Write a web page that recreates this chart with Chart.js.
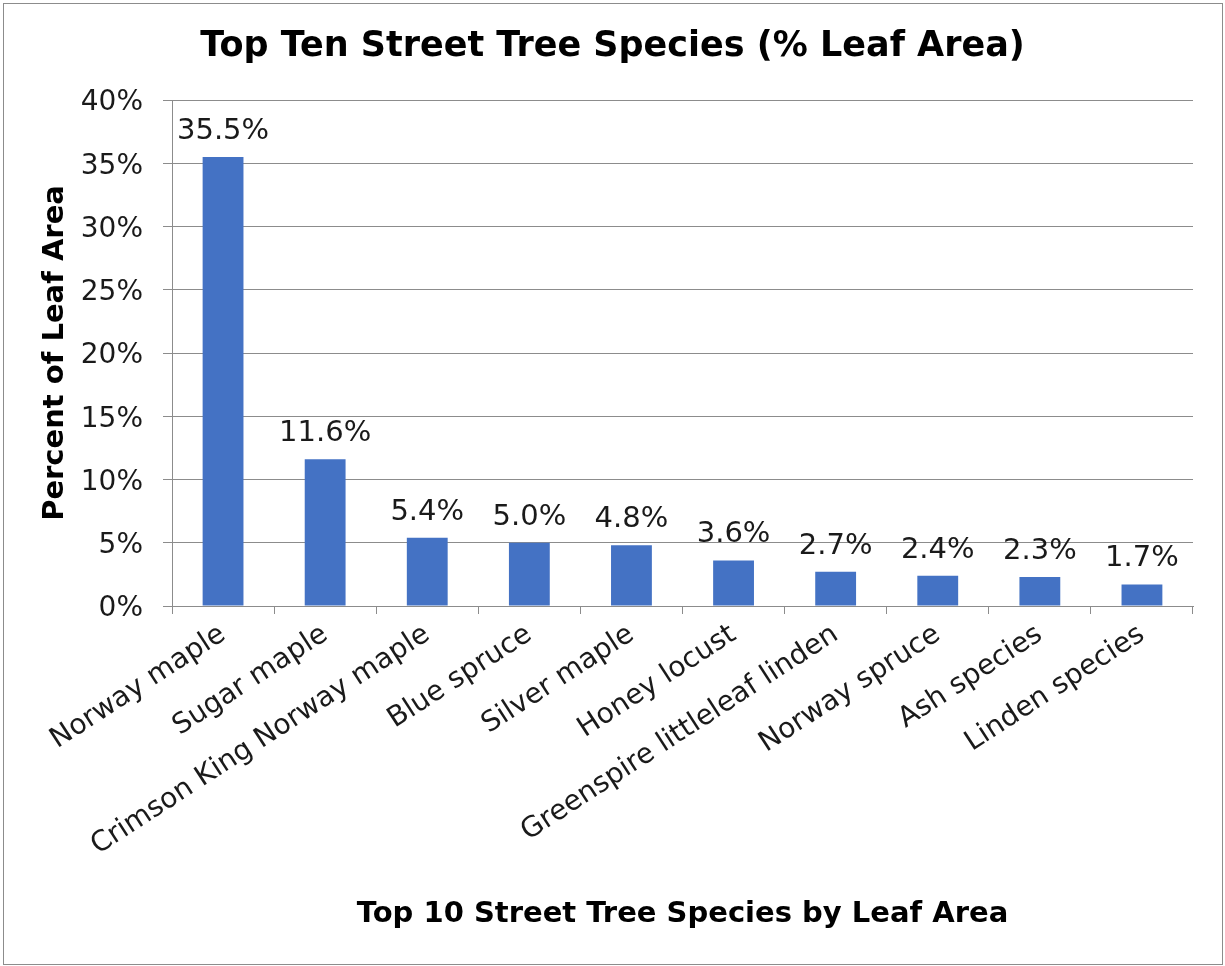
<!DOCTYPE html>
<html>
<head>
<meta charset="utf-8">
<script src="https://cdn.jsdelivr.net/npm/chart.js@4.4.1/dist/chart.umd.min.js"></script>
<style>
  html, body { margin: 0; padding: 0; background: #fff; }
  #wrap { position: relative; width: 1225px; height: 966px; }
</style>
</head>
<body>
<div id="wrap"><canvas id="c" width="1225" height="966"></canvas></div>
<script>
const categories = ["Norway maple", "Sugar maple", "Crimson King Norway maple", "Blue spruce", "Silver maple", "Honey locust", "Greenspire littleleaf linden", "Norway spruce", "Ash species", "Linden species"];
const leafAreaPct = [35.5, 11.6, 5.4, 5.0, 4.8, 3.6, 2.7, 2.4, 2.3, 1.7];
const yTicks = [0, 5, 10, 15, 20, 25, 30, 35, 40];
const chartTitle = "Top Ten Street Tree Species (% Leaf Area)";
const xTitle = "Top 10 Street Tree Species by Leaf Area";
const yTitle = "Percent of Leaf Area";

const FONT = "'DejaVu Sans', Verdana, sans-serif";

const frame = {
  id: 'frame',
  beforeDraw(chart) {
    const ctx = chart.ctx;
    ctx.save();
    ctx.fillStyle = '#fff';
    ctx.fillRect(0, 0, chart.width, chart.height);
    ctx.strokeStyle = '#8c8c8c';
    ctx.lineWidth = 1;
    ctx.strokeRect(3.5, 3.5, 1219, 961);
    ctx.restore();
  }
};

const valueLabels = {
  id: 'valueLabels',
  afterDatasetsDraw(chart) {
    const ctx = chart.ctx;
    const meta = chart.getDatasetMeta(0);
    const data = chart.data.datasets[0].data;
    ctx.save();
    ctx.font = '29px ' + FONT;
    ctx.fillStyle = '#1a1a1a';
    ctx.textAlign = 'center';
    ctx.textBaseline = 'alphabetic';
    meta.data.forEach((bar, i) => {
      ctx.fillText(data[i].toFixed(1) + '%', bar.x, bar.y - 18);
    });
    ctx.restore();
  }
};

new Chart(document.getElementById('c'), {
  type: 'bar',
  data: {
    labels: categories,
    datasets: [{
      data: leafAreaPct,
      backgroundColor: '#4472C4',
      borderWidth: 0,
      barPercentage: 0.4,
      categoryPercentage: 1.0
    }]
  },
  options: {
    responsive: false,
    animation: false,
    devicePixelRatio: 1,
    layout: { padding: { left: 32, right: 32, top: 4, bottom: 0 } },
    plugins: {
      legend: { display: false },
      tooltip: { enabled: false },
      title: {
        display: true,
        text: chartTitle,
        color: '#000',
        font: { family: FONT, size: 35, weight: 'bold', lineHeight: 1.2 },
        padding: { top: 22, bottom: 32 }
      }
    },
    scales: {
      x: {
        grid: { display: true, drawOnChartArea: false, offset: true, color: '#8c8c8c', tickLength: 8, tickColor: '#8c8c8c' },
        border: { display: true, color: '#8c8c8c', width: 1 },
        ticks: {
          color: '#1a1a1a',
          font: { family: FONT, size: 28 },
          minRotation: 33,
          maxRotation: 33,
          autoSkip: false,
          padding: 4
        },
        title: {
          display: true,
          text: xTitle,
          color: '#000',
          font: { family: FONT, size: 29, weight: 'bold', lineHeight: 1.2 },
          padding: { top: 0, bottom: 34 }
        },
        afterFit(scale) { scale.height = 966 - 606; }
      },
      y: {
        min: 0,
        max: 40,
        afterBuildTicks(scale) { scale.ticks = yTicks.map(v => ({ value: v })); },
        grid: { color: '#8c8c8c', tickLength: 9, tickColor: '#8c8c8c', lineWidth: 1 },
        border: { display: true, color: '#8c8c8c', width: 1 },
        ticks: {
          color: '#1a1a1a',
          font: { family: FONT, size: 28 },
          padding: 20,
          labelOffset: 3,
          callback: v => v + '%'
        },
        title: {
          display: true,
          text: yTitle,
          color: '#000',
          font: { family: FONT, size: 29, weight: 'bold', lineHeight: 1.2 },
          padding: { top: 6, bottom: 0 }
        },
        afterFit(scale) { scale.width = 172 - 32; }
      }
    }
  },
  plugins: [frame, valueLabels]
});
</script>
</body>
</html>
